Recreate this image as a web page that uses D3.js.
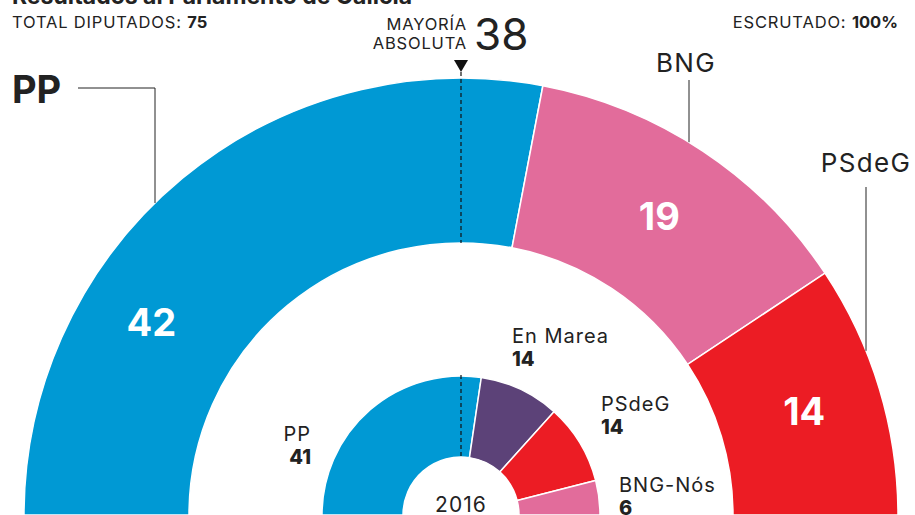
<!DOCTYPE html>
<html>
<head>
<meta charset="utf-8">
<script src="https://cdn.jsdelivr.net/npm/d3@7"></script>
<style>
  body { margin: 0; background: #fff; }
  svg { display: block; font-family: Inter, "Noto Sans", sans-serif; }
  .reg { letter-spacing: 0.05em; }
</style>
</head>
<body>
<div id="app"></div>
<script>
const totalSeats = 75;
const majority = 38;

// 2020 (outer)
const parties = ["PP", "BNG", "PSdeG"];
const seats = [42, 19, 14];
const colors = ["#0099d4", "#e26c9b", "#ec1c24"];

// 2016 (inner)
const parties2016 = ["PP", "En Marea", "PSdeG", "BNG-Nós"];
const seats2016 = [41, 14, 14, 6];
const colors2016 = ["#0099d4", "#5c4278", "#ec1c24", "#e26c9b"];

const width = 915, height = 515;
const cx = 461, cy = 515;

const svg = d3.select("#app").append("svg")
  .attr("width", width).attr("height", height);

// angles: -90deg (left) to +90deg (right)
const angle = d3.scaleLinear().domain([0, totalSeats]).range([-Math.PI / 2, Math.PI / 2]);

const stack = (vals) => {
  let acc = 0;
  return vals.map((v, i) => {
    const s = acc; acc += v;
    return { i, value: v, start: s, end: acc };
  });
};

const outer = { r0: 272, r1: 437 };
const inner = { r0: 58, r1: 139 };

const arcOuter = d3.arc().innerRadius(outer.r0).outerRadius(outer.r1)
  .startAngle(d => angle(d.start)).endAngle(d => angle(d.end));
const arcInner = d3.arc().innerRadius(inner.r0).outerRadius(inner.r1)
  .startAngle(d => angle(d.start)).endAngle(d => angle(d.end));

const g = svg.append("g").attr("transform", `translate(${cx},${cy})`);

const outerData = stack(seats);
g.append("g").selectAll("path").data(outerData).join("path")
  .attr("d", arcOuter)
  .attr("fill", d => colors[d.i])
  .attr("stroke", "#fff").attr("stroke-width", 1.5);

const innerData = stack(seats2016);
g.append("g").selectAll("path").data(innerData).join("path")
  .attr("d", arcInner)
  .attr("fill", d => colors2016[d.i])
  .attr("stroke", "#fff").attr("stroke-width", 1.5);

// majority line
const dash = (r0, r1) => g.append("line")
  .attr("x1", 0).attr("x2", 0).attr("y1", -r1).attr("y2", -r0)
  .attr("stroke", "#111").attr("stroke-width", 1.2).attr("stroke-dasharray", "4,3");
dash(outer.r0, outer.r1 + 6);
dash(inner.r0, inner.r1 + 1);
g.append("path")
  .attr("d", `M-7,${-outer.r1 - 18}L7,${-outer.r1 - 18}L0,${-outer.r1 - 6}Z`)
  .attr("fill", "#111");

// seat numbers inside outer ring
const labelR = (outer.r0 + outer.r1) / 2 + 4;
const numPos = (d) => {
  // PP label sits lower in its wedge
  const a = d.i === 0 ? angle(d.start + d.value * 0.317) : angle((d.start + d.end) / 2);
  const r = d.i === 0 ? 365 : labelR;
  return [Math.sin(a) * r, -Math.cos(a) * r];
};
g.append("g").selectAll("text").data(outerData).join("text")
  .attr("x", d => numPos(d)[0])
  .attr("y", d => numPos(d)[1])
  .attr("dy", "0.36em")
  .attr("text-anchor", "middle")
  .attr("fill", "#fff")
  .attr("font-weight", 700)
  .attr("font-size", 38)
  .text(d => d.value);

// outer party labels with leader lines
const onArc = (x) => -Math.sqrt(outer.r1 * outer.r1 - x * x);
const ink = "#222";
// PP
svg.append("text").attr("x", 12).attr("y", 103)
  .attr("font-size", 38).attr("font-weight", 700).attr("fill", ink).text(parties[0]);
svg.append("path")
  .attr("d", `M78,88H155V${cy + onArc(155 - cx)}`)
  .attr("fill", "none").attr("stroke", ink).attr("stroke-width", 1);
// BNG
svg.append("text").attr("class", "reg").attr("x", 686).attr("y", 72).attr("text-anchor", "middle")
  .attr("font-size", 26).attr("fill", ink).text(parties[1]);
svg.append("line").attr("x1", 689).attr("x2", 689).attr("y1", 80).attr("y2", cy + onArc(689 - cx))
  .attr("stroke", ink).attr("stroke-width", 1);
// PSdeG
svg.append("text").attr("class", "reg").attr("x", 866).attr("y", 172).attr("text-anchor", "middle")
  .attr("font-size", 26).attr("fill", ink).text(parties[2]);
svg.append("line").attr("x1", 866).attr("x2", 866).attr("y1", 187).attr("y2", cy + onArc(866 - cx))
  .attr("stroke", ink).attr("stroke-width", 1);

// 2016 labels
const innerLabels = [
  { x: 311, y: 441, anchor: "end" },
  { x: 512, y: 343, anchor: "start" },
  { x: 601, y: 411, anchor: "start" },
  { x: 619, y: 492, anchor: "start" }
];
parties2016.forEach((p, i) => {
  const l = innerLabels[i];
  const t = svg.append("text").attr("x", l.x).attr("y", l.y)
    .attr("text-anchor", l.anchor).attr("fill", ink).attr("font-size", 20);
  t.append("tspan").attr("class", "reg").attr("x", l.x).text(p);
  t.append("tspan").attr("x", l.x).attr("dy", 23).attr("font-weight", 800).text(seats2016[i]);
});
svg.append("text").attr("class", "reg").attr("x", cx).attr("y", 512).attr("text-anchor", "middle")
  .attr("font-size", 21).attr("fill", ink).text("2016");

// header
svg.append("text").attr("x", 12).attr("y", 4)
  .attr("font-size", 23).attr("font-weight", 700).attr("fill", ink)
  .text("Resultados al Parlamento de Galicia");
const hdr = svg.append("text").attr("x", 12).attr("y", 28)
  .attr("font-size", 16.5).attr("fill", ink);
hdr.append("tspan").attr("class", "reg").text("TOTAL DIPUTADOS: ");
hdr.append("tspan").attr("font-weight", 700).text(totalSeats);

const esc = svg.append("text").attr("x", 898).attr("y", 28).attr("text-anchor", "end")
  .attr("font-size", 16.5).attr("fill", ink);
esc.append("tspan").attr("class", "reg").text("ESCRUTADO: ");
esc.append("tspan").attr("font-weight", 700).text("100%");

svg.append("text").attr("class", "reg").attr("x", 467).attr("y", 30).attr("text-anchor", "end")
  .attr("font-size", 16.5).attr("fill", ink).text("MAYORÍA");
svg.append("text").attr("class", "reg").attr("x", 467).attr("y", 49).attr("text-anchor", "end")
  .attr("font-size", 16.5).attr("fill", ink).text("ABSOLUTA");
svg.append("text").attr("x", 474).attr("y", 50)
  .attr("font-size", 44).attr("fill", ink).text(majority);
</script>
</body>
</html>
